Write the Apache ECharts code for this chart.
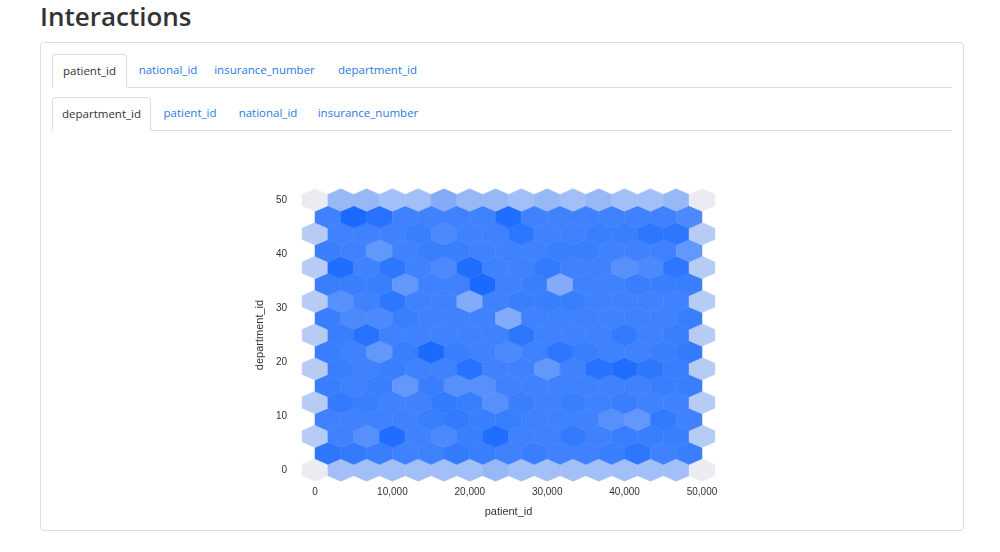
<!DOCTYPE html>
<html><head><meta charset="utf-8">
<script src="https://cdn.jsdelivr.net/npm/echarts@6/dist/echarts.min.js"></script>
<style>
body{margin:0;background:#fff;font-family:"Open Sans","Noto Sans",sans-serif;}
h1{position:absolute;left:40px;top:-2px;margin:0;font-size:26px;font-weight:600;color:#333;}
.card{position:absolute;left:40px;top:42px;width:924px;height:489px;border:1px solid #ddd;border-radius:4px;box-sizing:border-box;}
.tabs{position:absolute;left:52px;width:900px;height:33px;border-bottom:1px solid #ddd;font-size:11.5px;}
.tab{position:absolute;top:0;height:33px;line-height:32px;color:#2a7ae2;box-sizing:border-box;text-align:center;}
.tab.active{color:#333;border:1px solid #ddd;border-bottom:1px solid #fff;border-radius:4px 4px 0 0;background:#fff;height:34px;}
#chart{position:absolute;left:0;top:0;width:1000px;height:552px;}
</style></head><body>
<h1>Interactions</h1>
<div class="card"></div>
<div class="tabs" style="top:54px">
 <div class="tab active" style="left:0;width:75px">patient_id</div>
 <div class="tab" style="left:80px;width:72px">national_id</div>
 <div class="tab" style="left:160px;width:105px">insurance_number</div>
 <div class="tab" style="left:278px;width:95px">department_id</div>
</div>
<div class="tabs" style="top:97px">
 <div class="tab active" style="left:0;width:99px">department_id</div>
 <div class="tab" style="left:103px;width:70px">patient_id</div>
 <div class="tab" style="left:180px;width:72px">national_id</div>
 <div class="tab" style="left:260px;width:112px">insurance_number</div>
</div>
<div id="chart"></div>
<script>
// hexbin intensities, rows from y=0 (bottom) to y=50 (top); even rows 16 hexes starting x=0, odd rows 15 hexes offset
const rowsData = [
 [0,3.5,3.5,3.5,3.5,3.5,3.5,4,3.5,3.5,3.5,3.5,3.5,3.5,3.5,0],
 [8.5,8,7.5,7,7,8,7.5,7,7.5,7,7,7.5,8.5,7,7.5],
 [2.5,7,6,9.5,7,6.5,7.5,9.5,7,7,8,7,7.5,7.5,7.5,2.5],
 [7,7,7,7,7.5,8,7.5,7.5,7,7,7,6,5.5,8,7],
 [2.5,8,7.5,7,7,8,7.5,6,7.5,7,7.5,7,7.5,7,7,2.5],
 [7.5,7,7.5,5.5,7.5,6,6,7,7,7,7,7,7,7.5,7.5],
 [2.5,7.5,7,7.5,7,7,9,7,7,5.5,7,9,9.5,8.5,7.5,2.5],
 [7.5,7,5.5,7.5,10,7.5,7,6.5,7,8.5,7.5,7,7,7.5,8],
 [2.5,7.5,9,7,7,7,7,7,8.5,7,7,7,8,7,7.5,2.5],
 [7.5,6.5,6.5,7.5,7,7,7,5,7,7,7,7,7,7,7.5],
 [2.5,6,7,8.5,7,7,5,7,7.5,7.5,7.5,7,7,7,7,2.5],
 [7.5,7.5,7.5,5.5,7,7,10,7,7.5,5,7,7,7.5,7.5,7.5],
 [2.5,9.5,7,8.5,7,6.5,9.5,7,7,8,7,7,6,6.5,8.5,2.5],
 [7.5,7,5.5,7,7.5,7.5,7,7,7,7.5,7.5,7,7,7,5.5],
 [2.5,7,7,7,7.5,6.5,7,7,8.5,7,7,7.5,7.5,8.5,8.5,2.5],
 [7,10,9,7,7,7,7,9.5,7,7,7,7,7,7,6.5],
 [0,4,4,3.5,3.5,5,4,4,3.5,4,3.5,4,3.5,3.5,4,0]
];
const xTicks = [0,10000,20000,30000,40000,50000];
const yTicks = [0,10,20,30,40,50];

const dx = 50000/15, dy = 50/16;
const data = [];
rowsData.forEach((row,r)=>{
  row.forEach((v,c)=>{
    const cx = (r%2===0) ? c*dx : dx/2 + c*dx;
    data.push([cx, r*dy, v]);
  });
});
function colorOf(v){
  let t;
  if (v<=5) t = v/10*1.0; else if (v<=7) t = 0.6+(v-5)/2*0.22; else t = 0.82+(v-7)/3*0.18;
  t=Math.min(1,Math.max(0,t));
  const a=[235,236,242], b=[26,106,255];
  const c=a.map((x,i)=>Math.round(x+(b[i]-x)*t));
  return 'rgb('+c.join(',')+')';
}
const chart = echarts.init(document.getElementById('chart'));
const hw = dx/2, hh = dy*2/3;
chart.setOption({
  animation:false,
  grid:{left:315,top:200,width:387,height:270},
  xAxis:{type:'value',min:0,max:50000,name:'patient_id',nameLocation:'middle',nameGap:36,
    nameTextStyle:{color:'#333',fontSize:11},
    axisLine:{show:false},axisTick:{show:false},splitLine:{show:false},
    axisLabel:{customValues:xTicks,color:'#333',fontSize:10,margin:17}},
  yAxis:{type:'value',min:0,max:50,name:'department_id',nameLocation:'middle',nameGap:50,
    nameTextStyle:{color:'#333',fontSize:11},
    axisLine:{show:false},axisTick:{show:false},splitLine:{show:false},
    axisLabel:{customValues:yTicks,color:'#333',fontSize:10,margin:28}},
  series:[{type:'custom',clip:false,data:data,
    renderItem:function(params,api){
      const x=api.value(0), y=api.value(1), v=api.value(2);
      const pts=[[x,y+hh],[x+hw,y+hh/2],[x+hw,y-hh/2],[x,y-hh],[x-hw,y-hh/2],[x-hw,y+hh/2]].map(p=>api.coord(p));
      return {type:'polygon',shape:{points:pts},style:{fill:colorOf(v),stroke:colorOf(v),lineWidth:0.5}};
    }}]
});
</script>
</body></html>
